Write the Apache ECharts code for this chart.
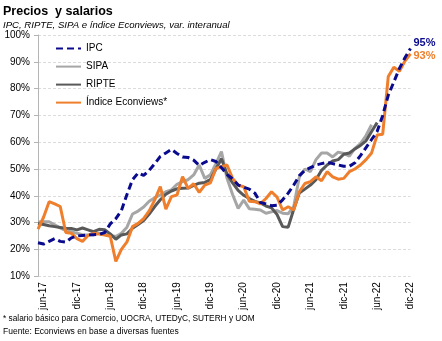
<!DOCTYPE html>
<html><head><meta charset="utf-8">
<script src="https://cdn.jsdelivr.net/npm/echarts@6/dist/echarts.min.js"></script>
<style>html,body{margin:0;padding:0;background:#fff}#c{width:442px;height:341px}</style>
</head><body><div id="c"></div>
<script>
const categories = ['may-17','jun-17','jul-17','ago-17','sep-17','oct-17','nov-17','dic-17',
'ene-18','feb-18','mar-18','abr-18','may-18','jun-18','jul-18','ago-18','sep-18','oct-18','nov-18','dic-18',
'ene-19','feb-19','mar-19','abr-19','may-19','jun-19','jul-19','ago-19','sep-19','oct-19','nov-19','dic-19',
'ene-20','feb-20','mar-20','abr-20','may-20','jun-20','jul-20','ago-20','sep-20','oct-20','nov-20','dic-20',
'ene-21','feb-21','mar-21','abr-21','may-21','jun-21','jul-21','ago-21','sep-21','oct-21','nov-21','dic-21',
'ene-22','feb-22','mar-22','abr-22','may-22','jun-22','jul-22','ago-22','sep-22','oct-22','nov-22','dic-22'];

const ipc = [22.5,22,23,24,23,22.7,24.3,25,25.2,25.4,25.5,25.6,26.3,29.5,31.5,34.5,40.5,46,48.5,47.6,
49.5,52,54.7,56,57.3,55.8,54.5,54.3,53.3,51.3,52.5,53.5,52.8,50.5,48,46.3,44,43.2,42.5,41,
37.5,37,36.3,36.5,38.5,41,44,47.5,49.5,50.5,51.5,52,52.5,52,51.5,51,51,52.3,55,58,61,64,70,77.5,82.5,87.5,91.5,95];

const sipa = [30.2,30.3,30.3,29.2,28,27,26.6,26,25.5,25.4,25.5,26,25.8,25.2,24.8,26,28.3,33.2,34.3,35.8,
38,39.3,40.3,41.5,42.2,44.3,45.3,46,47.8,51.5,46.5,47.8,52,56.5,46.5,40.5,35.3,38.4,35.2,35,
34.7,33.5,34,34.5,33.5,33.3,36,47,50,49,53.5,56,56,54.5,56.3,55.8,54.8,57.7,59.5,62.5,66.5,
null,null,null,null,null,null,null];

const ripte = [29.7,29.3,28.8,28.5,28.2,27.9,27.8,27.3,28,27.3,26.6,27.5,27.3,25.8,23.8,25.4,25.8,27.9,29.3,30.8,
33.2,36,38.5,40.6,41.8,42.6,42.8,42.9,43.9,44.7,45,46,50,53.8,48,44.8,42,40.2,39,37.9,
37.3,36.2,35.5,33,28.5,28.3,35,41,42.5,44,46,49.5,51.5,53,53.5,55.5,56,57.5,58.8,60.5,64,67.3,
null,null,null,null,null,null];

const econviews = [27.6,32,37.8,37,36,26.3,26,24,23,25.2,26,25.7,25.4,24.9,15.5,20,22.8,28.5,29.7,31.5,
34.4,38.5,43.4,35,39.7,40.3,47.1,42.8,44.5,41.3,44,44.8,50.2,50.9,51.5,46.5,44,43.4,38,37.8,
37,39,41.5,39.5,34.7,35.9,34.7,41.5,44.6,45.3,47.1,45.6,49,47.1,46.2,46.5,49,50,51.5,53.5,56,62.7,63,84.5,88,86.5,90.3,93];

const yTicks = {min:10, max:100, step:10};
const seriesNames = ['IPC','SIPA','RIPTE','Índice Econviews*'];
const F = '"Liberation Sans", Arial, sans-serif';

const chart = echarts.init(document.getElementById('c'), null, {renderer:'canvas'});
chart.setOption({
  animation:false,
  backgroundColor:'#fff',
  textStyle:{fontFamily:F},
  title:[
    {text:'Precios  y salarios', left:3, top:5, padding:0, textStyle:{fontSize:12.5, fontWeight:'bold', color:'#000', fontFamily:F}},
    {text:'IPC, RIPTE, SIPA e índice Econviews, var. interanual', left:3, top:20, padding:0, textStyle:{fontSize:9.6, fontStyle:'italic', fontWeight:'normal', color:'#000', fontFamily:F}},
    {text:'* salario básico para Comercio, UOCRA, UTEDyC, SUTERH y UOM', left:3, top:314.5, padding:0, textStyle:{fontSize:8.3, fontWeight:'normal', color:'#000', fontFamily:F}},
    {text:'Fuente: Econviews en base a diversas fuentes', left:3, top:327, padding:0, textStyle:{fontSize:8.5, fontWeight:'normal', color:'#000', fontFamily:F}}
  ],
  legend:{
    orient:'vertical', left:55, top:43, padding:0, itemWidth:25, itemHeight:14, itemGap:6.8,
    itemStyle:{opacity:0},
    textStyle:{fontSize:10, color:'#000', fontFamily:F},
    data:seriesNames
  },
  grid:{left:38, right:31.5, top:35, bottom:64.8, containLabel:false},
  xAxis:{
    type:'category', data:categories, boundaryGap:false,
    axisLine:{show:false}, axisTick:{show:false},
    axisLabel:{rotate:90, fontSize:10, color:'#000', margin:6, fontFamily:F,
      interval:(i,v)=> v.startsWith('jun') || v.startsWith('dic')},
    splitLine:{show:false}
  },
  yAxis:{
    type:'value', min:yTicks.min, max:yTicks.max, interval:yTicks.step,
    axisLine:{show:true, lineStyle:{color:'#b4b4b4', width:1}},
    axisTick:{show:true, length:4, lineStyle:{color:'#b4b4b4'}},
    axisLabel:{formatter:'{value}%', fontSize:10, color:'#000', margin:8, fontFamily:F},
    splitLine:{show:true, lineStyle:{color:'#dcdcdc', type:[3,2], width:1}}
  },
  series:[
    {name:'IPC', type:'line', data:ipc, symbol:'none', z:4,
      lineStyle:{color:'#0a0a8f', width:3, type:[7,4]}, itemStyle:{color:'#0a0a8f'},
      endLabel:{show:true, formatter:p=>Math.round(p.value)+'%', color:'#0a0a8f', fontWeight:'bold', fontSize:11, distance:3, offset:[0,-5], fontFamily:F}},
    {name:'SIPA', type:'line', data:sipa, symbol:'none', z:2,
      lineStyle:{color:'#a6a6a6', width:3}, itemStyle:{color:'#a6a6a6'}},
    {name:'RIPTE', type:'line', data:ripte, symbol:'none', z:2,
      lineStyle:{color:'#595959', width:3}, itemStyle:{color:'#595959'}},
    {name:'Índice Econviews*', type:'line', data:econviews, symbol:'none', z:3,
      lineStyle:{color:'#ef7f2c', width:3}, itemStyle:{color:'#ef7f2c'},
      endLabel:{show:true, formatter:p=>Math.round(p.value)+'%', color:'#ef7f2c', fontWeight:'bold', fontSize:11, distance:3, offset:[0,2], fontFamily:F}}
  ]
});
</script>
</body></html>
